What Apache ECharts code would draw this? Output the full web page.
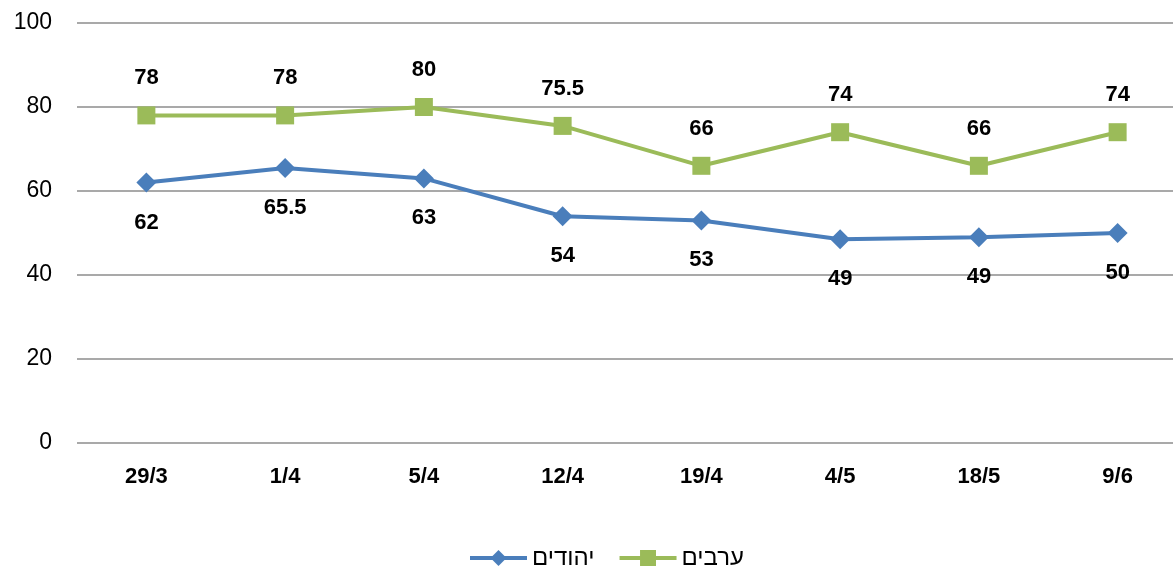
<!DOCTYPE html>
<html>
<head>
<meta charset="utf-8">
<script src="https://cdn.jsdelivr.net/npm/echarts@6/dist/echarts.min.js"></script>
<style>
  html, body { margin: 0; padding: 0; background: #fff; }
  #main { width: 1173px; height: 566px; }
</style>
</head>
<body>
<div id="main"></div>
<script>
// תאריכים
var dates = ['29/3', '1/4', '5/4', '12/4', '19/4', '4/5', '18/5', '9/6'];
// יהודים
var jews = [62, 65.5, 63, 54, 53, 48.5, 49, 50];
var jewsLabels = ['62', '65.5', '63', '54', '53', '49', '49', '50'];
// ערבים
var arabs = [78, 78, 80, 75.5, 66, 74, 66, 74];
var arabsLabels = ['78', '78', '80', '75.5', '66', '74', '66', '74'];
var yTicks = [0, 20, 40, 60, 80, 100];

var font = '"Liberation Sans", Arial, sans-serif';
var myChart = echarts.init(document.getElementById('main'));

myChart.setOption({
  animation: false,
  textStyle: { fontFamily: font },
  grid: { left: 77, width: 1110, top: 23, bottom: 123, containLabel: false, outerBoundsMode: 'none' },
  legend: {
    top: 546,
    left: 468,
    padding: 0,
    itemWidth: 57,
    itemHeight: 20,
    itemGap: 23,
    lineStyle: { width: 4 },
    textStyle: { fontSize: 24, color: '#000', fontFamily: font },
    data: ['יהודים', 'ערבים']
  },
  xAxis: {
    type: 'category',
    data: dates,
    axisLine: { show: false },
    axisTick: { show: false },
    axisLabel: { fontSize: 22, fontWeight: 'bold', color: '#000', margin: 23, fontFamily: font }
  },
  yAxis: {
    type: 'value',
    min: yTicks[0],
    max: yTicks[yTicks.length - 1],
    interval: 20,
    axisLine: { show: false },
    axisTick: { show: false },
    axisLabel: { fontSize: 23, color: '#000', margin: 25, fontFamily: font },
    splitLine: { lineStyle: { color: '#8c8c8c', width: 1.5 } }
  },
  series: [
    {
      name: 'יהודים',
      type: 'line',
      data: jews,
      symbol: 'diamond',
      symbolSize: 20,
      color: '#4a7ebb',
      lineStyle: { width: 4 },
      label: {
        show: true,
        position: 'bottom',
        distance: 19,
        fontSize: 22,
        fontWeight: 'bold',
        color: '#000',
        fontFamily: font,
        formatter: function (p) { return jewsLabels[p.dataIndex]; }
      }
    },
    {
      name: 'ערבים',
      type: 'line',
      data: arabs,
      symbol: 'rect',
      symbolSize: 18,
      color: '#9bbb59',
      lineStyle: { width: 4 },
      label: {
        show: true,
        position: 'top',
        distance: 17,
        fontSize: 22,
        fontWeight: 'bold',
        color: '#000',
        fontFamily: font,
        formatter: function (p) { return arabsLabels[p.dataIndex]; }
      }
    }
  ]
});
</script>
</body>
</html>
